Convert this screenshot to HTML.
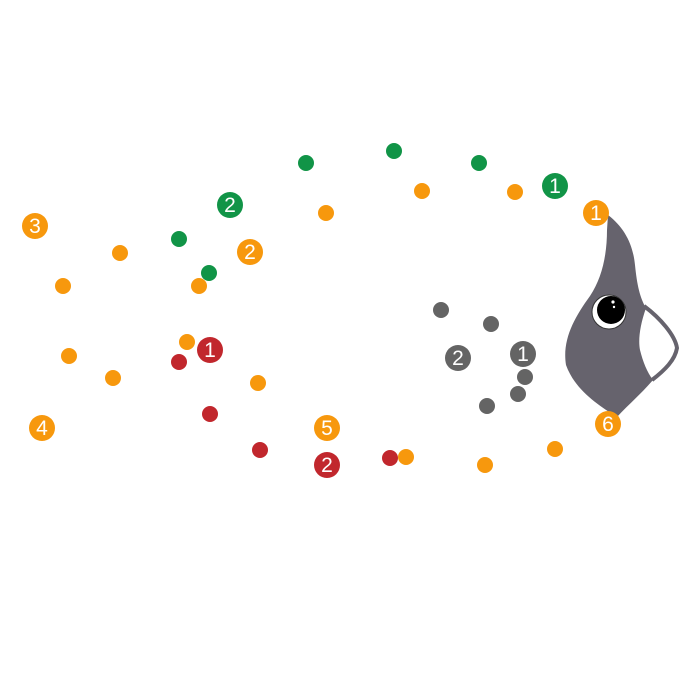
<!DOCTYPE html>
<html><head><style>
html,body{margin:0;padding:0;background:#fff;width:700px;height:700px;overflow:hidden}
text{font-family:"Liberation Sans",sans-serif;font-size:21px;fill:#fff;text-anchor:middle}
</style></head><body>
<svg width="700" height="700" viewBox="0 0 700 700">
<path d="M608,215 C625,228 633,245 635,265 C637,285 640,298 646,308 C640,325 638,340 640,350 C643,362 647,372 653,380 C640,395 628,405 617,417 C598,405 575,390 566,365 C562,340 574,318 590,296 C602,278 607,255 607,230 Z" fill="#66636d"/>
<path d="M644,306 C660,318 675,335 677,348 C675,360 665,370 652,380" fill="none" stroke="#66636d" stroke-width="4"/>
<circle cx="609" cy="312" r="17" fill="#fff" stroke="#333" stroke-width="1"/>
<circle cx="611" cy="310" r="14" fill="#000"/>
<circle cx="613" cy="302" r="1.6" fill="#fff"/>
<circle cx="614" cy="307" r="1.2" fill="#fff"/>
<g fill="#f7980d">
<circle cx="422" cy="191" r="8"/><circle cx="515" cy="192" r="8"/><circle cx="326" cy="213" r="8"/>
<circle cx="120" cy="253" r="8"/><circle cx="63" cy="286" r="8"/><circle cx="199" cy="286" r="8"/>
<circle cx="187" cy="342" r="8"/><circle cx="69" cy="356" r="8"/><circle cx="113" cy="378" r="8"/>
<circle cx="258" cy="383" r="8"/><circle cx="406" cy="457" r="8"/><circle cx="485" cy="465" r="8"/>
<circle cx="555" cy="449" r="8"/>
</g>
<g fill="#119447">
<circle cx="306" cy="163" r="8"/><circle cx="394" cy="151" r="8"/><circle cx="479" cy="163" r="8"/>
<circle cx="179" cy="239" r="8"/><circle cx="209" cy="273" r="8"/>
</g>
<g fill="#c1272d">
<circle cx="179" cy="362" r="8"/><circle cx="210" cy="414" r="8"/><circle cx="260" cy="450" r="8"/><circle cx="390" cy="458" r="8"/>
</g>
<g fill="#646464">
<circle cx="441" cy="310" r="8"/><circle cx="491" cy="324" r="8"/><circle cx="525" cy="377" r="8"/>
<circle cx="518" cy="394" r="8"/><circle cx="487" cy="406" r="8"/>
</g>
<g>
<circle cx="35" cy="226" r="13" fill="#f7980d"/><text x="35" y="233">3</text>
<circle cx="250" cy="252" r="13" fill="#f7980d"/><text x="250" y="259">2</text>
<circle cx="596" cy="213" r="13" fill="#f7980d"/><text x="596" y="220">1</text>
<circle cx="42" cy="428" r="13" fill="#f7980d"/><text x="42" y="435">4</text>
<circle cx="327" cy="428" r="13" fill="#f7980d"/><text x="327" y="435">5</text>
<circle cx="608" cy="424" r="13" fill="#f7980d"/><text x="608" y="431">6</text>
<circle cx="230" cy="205" r="13" fill="#119447"/><text x="230" y="212">2</text>
<circle cx="555" cy="186" r="13" fill="#119447"/><text x="555" y="193">1</text>
<circle cx="210" cy="350" r="13" fill="#c1272d"/><text x="210" y="357">1</text>
<circle cx="327" cy="465" r="13" fill="#c1272d"/><text x="327" y="472">2</text>
<circle cx="458" cy="358" r="13" fill="#646464"/><text x="458" y="365">2</text>
<circle cx="523" cy="354" r="13" fill="#646464"/><text x="523" y="361">1</text>
</g>
</svg>
</body></html>
